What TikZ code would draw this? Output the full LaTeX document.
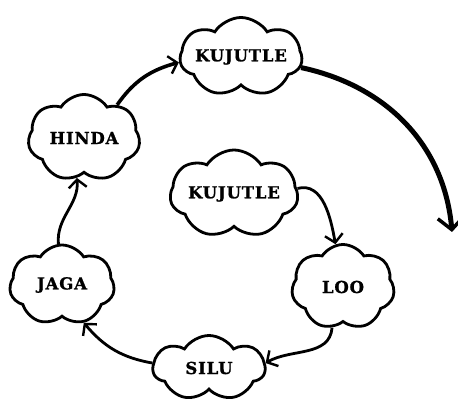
\documentclass[tikz,border=0pt]{standalone}
\usepackage{fontspec}
\setmainfont{DejaVu Serif}
\newfontfamily\cloudfont{DejaVu Serif}[LetterSpace=5, BoldFeatures={FakeBold=1.2}]
\usetikzlibrary{shapes.symbols,arrows.meta}
\begin{document}
\begin{tikzpicture}[x=1pt,y=1pt,
  cl/.style={cloud, cloud puffs=7, cloud puff arc=115, cloud ignores aspect, draw, line width=2.8pt, inner sep=0pt,
    font=\cloudfont\bfseries\fontsize{16.5}{16.5}\selectfont},
  arr/.style={line width=2.8pt, -{Straight Barb[length=8pt,width=18pt,line width=2.4pt]}},
]
\useasboundingbox (0,0) rectangle (458,404);
\node[cl, minimum width=117pt, minimum height=79pt] (top)   at (241,347) {KUJUTLE};
\node[cl, minimum width=112pt, minimum height=87pt] (hinda) at (84,266)  {HINDA};
\node[cl, minimum width=128pt, minimum height=88pt] (mid)   at (234,210) {KUJUTLE};
\node[cl, minimum width=105pt, minimum height=80pt] (jaga)  at (62,119)  {JAGA};
\node[cl, minimum width=103pt, minimum height=85pt] (loo)   at (343,117) {LOO};
\node[cl, minimum width=112pt, minimum height=65pt] (silu)  at (209,36)  {SILU};
\coordinate (bigend) at (452,172);
\draw[arr, line width=3.6pt] (hinda.45) to[out=55,in=195] (top.185);
\draw[line width=5pt, -{Straight Barb[length=12pt,width=26pt,line width=3.5pt]}] (top.-10) to[out=-12,in=95] (bigend);
\draw[arr] (mid.5) to[out=15,in=100] (loo.100);
\draw[arr] (loo.-105) to[out=-95,in=30] (silu.5);
\draw[arr] (silu.175) to[out=170,in=-50] (jaga.-60);
\draw[arr] (jaga.95) to[out=95,in=-85] (hinda.-100);
\end{tikzpicture}
\end{document}
